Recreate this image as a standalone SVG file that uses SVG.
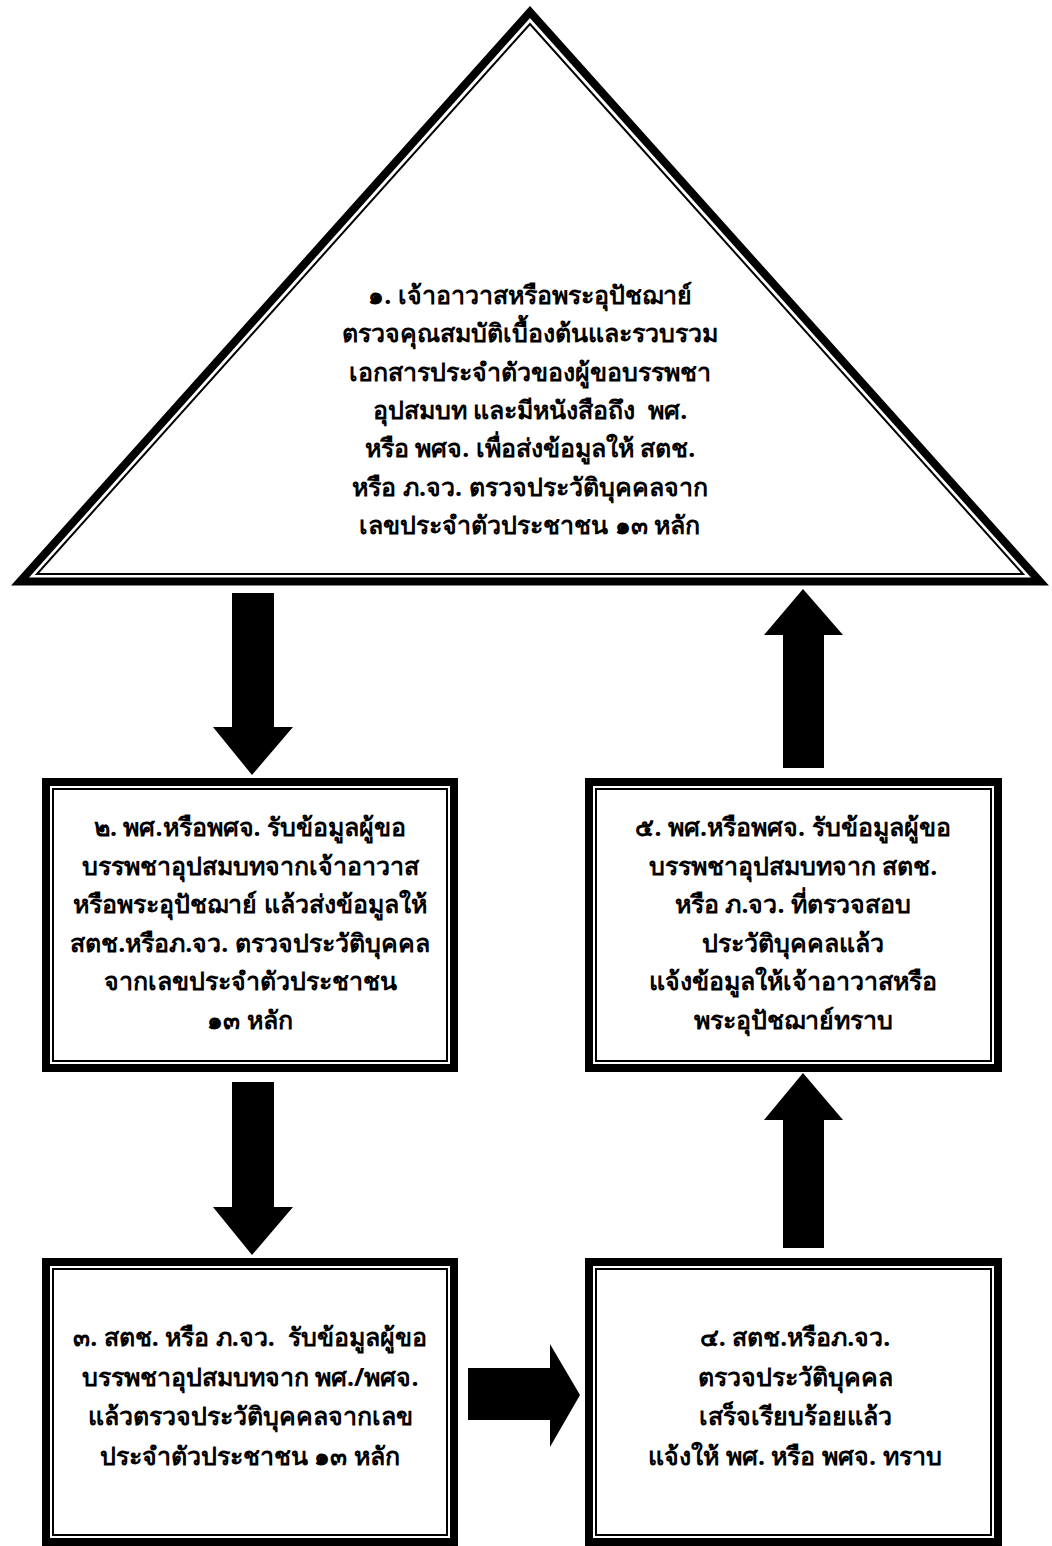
<svg xmlns="http://www.w3.org/2000/svg" width="1052" height="1546" viewBox="0 0 1052 1546">
<style>
.t{font-family:"Noto Sans","DejaVu Sans",sans-serif;font-weight:bold;font-size:25px;fill:#000;text-anchor:middle;white-space:pre}
.thick{fill:none;stroke:#000;stroke-width:8;stroke-linejoin:miter}
.thin{fill:none;stroke:#000;stroke-width:2}
.arrow{fill:#000}
</style>
<rect width="1052" height="1546" fill="#fff"/>
<g id="node1">
<polygon class="thick" points="530,12 20,581.5 1040,581.5" stroke-width="9"/>
<polygon class="thin" points="530,24 37,574 1023,574"/>
<text class="t" x="530" y="304">๑. เจ้าอาวาสหรือพระอุปัชฌาย์</text>
<text class="t" x="530" y="342">ตรวจคุณสมบัติเบื้องต้นและรวบรวม</text>
<text class="t" x="530" y="381">เอกสารประจำตัวของผู้ขอบรรพชา</text>
<text class="t" x="530" y="419">อุปสมบท และมีหนังสือถึง  พศ.</text>
<text class="t" x="530" y="457">หรือ พศจ. เพื่อส่งข้อมูลให้ สตช.</text>
<text class="t" x="530" y="496">หรือ ภ.จว. ตรวจประวัติบุคคลจาก</text>
<text class="t" x="530" y="534">เลขประจำตัวประชาชน ๑๓ หลัก</text>
</g>
<g id="node2">
<rect class="thick" x="46" y="782" width="408" height="286"/>
<rect class="thin" x="53" y="789" width="394" height="272"/>
<text class="t" x="250" y="836">๒. พศ.หรือพศจ. รับข้อมูลผู้ขอ</text>
<text class="t" x="250" y="875">บรรพชาอุปสมบทจากเจ้าอาวาส</text>
<text class="t" x="250" y="913">หรือพระอุปัชฌาย์ แล้วส่งข้อมูลให้</text>
<text class="t" x="250" y="952">สตช.หรือภ.จว. ตรวจประวัติบุคคล</text>
<text class="t" x="250" y="990">จากเลขประจำตัวประชาชน</text>
<text class="t" x="250" y="1029">๑๓ หลัก</text>
</g>
<g id="node5">
<rect class="thick" x="589" y="782" width="409" height="286"/>
<rect class="thin" x="596" y="789" width="395" height="272"/>
<text class="t" x="793" y="836">๕. พศ.หรือพศจ. รับข้อมูลผู้ขอ</text>
<text class="t" x="793" y="875">บรรพชาอุปสมบทจาก สตช.</text>
<text class="t" x="793" y="913">หรือ ภ.จว. ที่ตรวจสอบ</text>
<text class="t" x="793" y="952">ประวัติบุคคลแล้ว</text>
<text class="t" x="793" y="990">แจ้งข้อมูลให้เจ้าอาวาสหรือ</text>
<text class="t" x="793" y="1029">พระอุปัชฌาย์ทราบ</text>
</g>
<g id="node3">
<rect class="thick" x="46" y="1262" width="408" height="280"/>
<rect class="thin" x="53" y="1269" width="394" height="266"/>
<text class="t" x="250" y="1346">๓. สตช. หรือ ภ.จว.  รับข้อมูลผู้ขอ</text>
<text class="t" x="250" y="1386">บรรพชาอุปสมบทจาก พศ./พศจ.</text>
<text class="t" x="250" y="1425">แล้วตรวจประวัติบุคคลจากเลข</text>
<text class="t" x="250" y="1465">ประจำตัวประชาชน ๑๓ หลัก</text>
</g>
<g id="node4">
<rect class="thick" x="589" y="1262" width="409" height="280"/>
<rect class="thin" x="596" y="1269" width="395" height="266"/>
<text class="t" x="795" y="1346">๔. สตช.หรือภ.จว.</text>
<text class="t" x="795" y="1386">ตรวจประวัติบุคคล</text>
<text class="t" x="795" y="1425">เสร็จเรียบร้อยแล้ว</text>
<text class="t" x="795" y="1465">แจ้งให้ พศ. หรือ พศจ. ทราบ</text>
</g>
<g id="connectors">
<polygon class="arrow" points="232,593 274,593 274,727 293,727 252,775 213,727 232,727"/>
<polygon class="arrow" points="232,1082 274,1082 274,1207 293,1207 252,1255 213,1207 232,1207"/>
<polygon class="arrow" points="468,1368 550,1368 550,1344 580,1395 550,1447 550,1420 468,1420"/>
<polygon class="arrow" points="783,1248 824,1248 824,1120 843,1120 803,1073 764,1120 783,1120"/>
<polygon class="arrow" points="783,768 824,768 824,635 843,635 803,589 764,635 783,635"/>
</g>
</svg>
